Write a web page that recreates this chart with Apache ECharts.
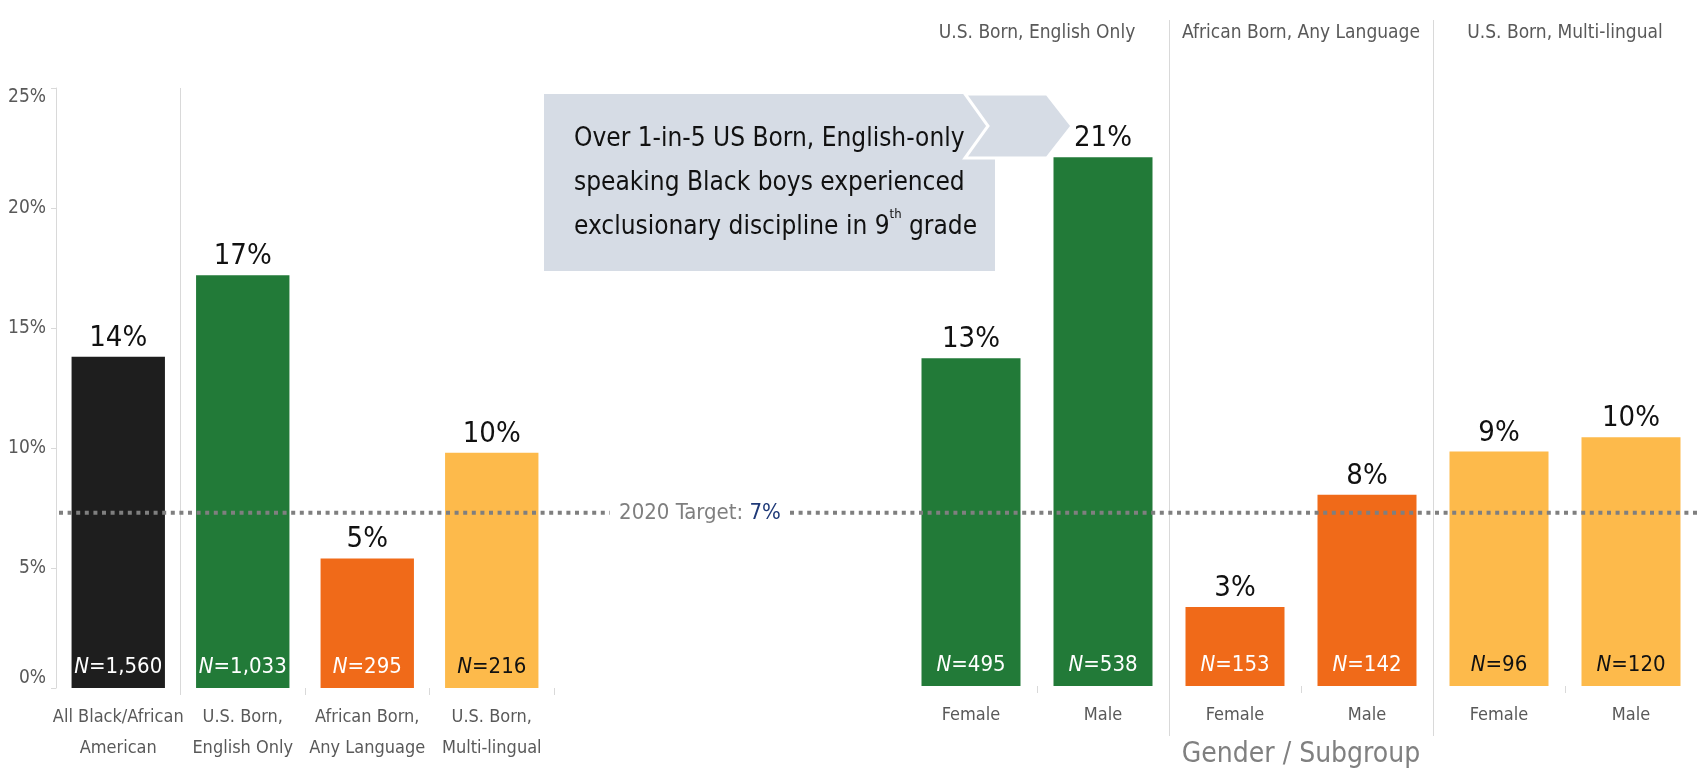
<!DOCTYPE html>
<html>
<head>
<meta charset="utf-8">
<title>Exclusionary discipline in 9th grade</title>
<script src="https://cdn.jsdelivr.net/npm/echarts@6/dist/echarts.min.js"></script>
<style>
  html, body { margin: 0; padding: 0; background: #fff; }
  #chart { width: 1697px; height: 774px; }
</style>
</head>
<body>
<div id="chart"></div>
<script>
var FONT = '"Liberation Sans Narrow", "DejaVu Sans Condensed", "Arial Narrow", sans-serif';

// left panel: all students, then by background
var groupNames = ['All Black/African\nAmerican', 'U.S. Born,\nEnglish Only', 'African Born,\nAny Language', 'U.S. Born,\nMulti-lingual'];
var groupRates = [13.8, 17.2, 5.4, 9.8];
var groupLabels = ['14%', '17%', '5%', '10%'];
var groupN = ['1,560', '1,033', '295', '216'];

// right panel: gender inside each subgroup
var subgroupNames = ['U.S. Born, English Only', 'African Born, Any Language', 'U.S. Born, Multi-lingual'];
var genderNames = ['Female', 'Male', 'Female', 'Male', 'Female', 'Male'];
var genderRates = [13.7, 22.1, 3.3, 8.0, 9.8, 10.4];
var genderLabels = ['13%', '21%', '3%', '8%', '9%', '10%'];
var genderN = ['495', '538', '153', '142', '96', '120'];

var yMax = 25;
var yStep = 5;
var target = 7.3;
var targetLabel = '7%';

var BLACK = '#1e1e1e', GREEN = '#227a38', ORANGE = '#f06a19', YELLOW = '#fdba4b';
var groupColors = [BLACK, GREEN, ORANGE, YELLOW];
var genderColors = [GREEN, GREEN, ORANGE, ORANGE, YELLOW, YELLOW];
var GRAY = '#595959', RULE = '#d9d9d9';

function barData(values, colors) {
    return values.map(function (v, i) {
        return { value: v, itemStyle: { color: colors[i] } };
    });
}
function nData(values, colors) {
    return values.map(function (v, i) {
        return { value: v, label: { color: colors[i] === YELLOW ? '#111' : '#fff' } };
    });
}

function barSeries(axis, values, colors, labels) {
    return {
        type: 'bar', xAxisIndex: axis, yAxisIndex: axis, silent: true,
        data: barData(values, colors),
        barCategoryGap: '25%',
        label: {
            show: true, position: 'top', distance: 4,
            formatter: function (p) { return labels[p.dataIndex]; },
            fontFamily: FONT, fontSize: 29, color: '#111'
        },
        z: 2
    };
}
function nSeries(axis, values, colors, counts) {
    return {
        type: 'bar', xAxisIndex: axis, yAxisIndex: axis, silent: true,
        data: nData(values, colors),
        barGap: '-100%', barCategoryGap: '25%',
        itemStyle: { color: 'transparent' },
        label: {
            show: true, position: 'insideBottom', distance: 10,
            formatter: function (p) { return '{i|N}=' + counts[p.dataIndex]; },
            fontFamily: FONT, fontSize: 22,
            rich: { i: { fontStyle: 'italic', fontFamily: FONT, fontSize: 22 } }
        },
        z: 3
    };
}

// hide the tick at the very start of each category axis
function innerTicks(index) { return index > 0; }

var chart = echarts.init(document.getElementById('chart'));
var option = {
    animation: false,
    textStyle: { fontFamily: FONT },
    grid: [
        { left: 56, top: 88, width: 498, bottom: 86 },
        { left: 905, top: 88, right: -16, bottom: 86 }
    ],
    xAxis: [
        {
            type: 'category', gridIndex: 0, data: groupNames,
            axisLine: { show: false },
            axisTick: { show: true, length: 7, interval: innerTicks, lineStyle: { color: RULE } },
            axisLabel: { interval: 0, color: GRAY, fontFamily: FONT, fontSize: 18, lineHeight: 31, margin: 14 }
        },
        {
            type: 'category', gridIndex: 1, data: genderNames,
            axisLine: { show: false },
            axisTick: { show: true, length: 7, interval: innerTicks, lineStyle: { color: RULE } },
            axisLabel: { interval: 0, color: GRAY, fontFamily: FONT, fontSize: 18, lineHeight: 31, margin: 14 },
            name: 'Gender / Subgroup', nameLocation: 'middle', nameGap: 55,
            nameTextStyle: { color: '#808080', fontFamily: FONT, fontSize: 28 }
        }
    ],
    yAxis: [
        {
            type: 'value', gridIndex: 0, min: 0, max: yMax, interval: yStep,
            axisLine: { show: true, lineStyle: { color: RULE } },
            axisTick: { show: true, length: 5, lineStyle: { color: RULE } },
            splitLine: { show: false },
            axisLabel: {
                formatter: '{value}%', color: GRAY, fontFamily: FONT, fontSize: 19, margin: 10,
                verticalAlignMaxLabel: 'top', verticalAlignMinLabel: 'bottom'
            }
        },
        { type: 'value', gridIndex: 1, min: 0, max: yMax, interval: yStep, show: false }
    ],
    series: [
        barSeries(0, groupRates, groupColors, groupLabels),
        nSeries(0, groupRates, groupColors, groupN),
        barSeries(1, genderRates, genderColors, genderLabels),
        nSeries(1, genderRates, genderColors, genderN)
    ]
};
chart.setOption(option);

// separators, headers, target line and the call-out, placed from the axes
var px0 = function (i) { return chart.convertToPixel({ xAxisIndex: 0 }, i); };
var px1 = function (i) { return chart.convertToPixel({ xAxisIndex: 1 }, i); };
var py = function (v) { return chart.convertToPixel({ yAxisIndex: 0 }, v); };

var yTop = py(yMax), yBase = py(0), yTarget = py(target);
var leftEdge = px0(0) - (px0(1) - px0(0)) / 2;
var graphics = [];

graphics.push({
    type: 'line', z: 1, silent: true,
    shape: { x1: (px0(0) + px0(1)) / 2, y1: yTop, x2: (px0(0) + px0(1)) / 2, y2: yBase },
    style: { stroke: RULE, lineWidth: 1 }
});
[1, 3].forEach(function (i) {
    var x = Math.round((px1(i) + px1(i + 1)) / 2) + 0.5;
    graphics.push({
        type: 'line', z: 1, silent: true,
        shape: { x1: x, y1: 20, x2: x, y2: 736 },
        style: { stroke: RULE, lineWidth: 1 }
    });
});
subgroupNames.forEach(function (name, k) {
    graphics.push({
        type: 'text', z: 5, silent: true,
        x: (px1(2 * k) + px1(2 * k + 1)) / 2, y: 33,
        style: { text: name, fill: GRAY, font: '19px ' + FONT, align: 'center', verticalAlign: 'middle' }
    });
});

// 2020 target
var dash = { stroke: '#7f7f7f', lineWidth: 4, lineDash: [4, 4.6] };
graphics.push({ type: 'line', z: 50, silent: true, shape: { x1: leftEdge + 3, y1: yTarget, x2: 610, y2: yTarget }, style: dash });
graphics.push({ type: 'line', z: 50, silent: true, shape: { x1: 790, y1: yTarget, x2: 1697, y2: yTarget }, style: dash });
graphics.push({
    type: 'text', z: 50, silent: true, x: 700, y: yTarget,
    style: {
        text: '{a|2020 Target: }{b|' + targetLabel + '}',
        align: 'center', verticalAlign: 'middle',
        rich: {
            a: { fill: '#7f7f7f', font: '22px ' + FONT },
            b: { fill: '#1f3a78', font: '22px ' + FONT }
        }
    }
});

// call-out box
graphics.push({
    type: 'rect', z: 20, silent: true,
    shape: { x: 544, y: 94, width: 451, height: 177 },
    style: { fill: '#d6dce5' }
});
graphics.push({
    type: 'polygon', z: 21, silent: true,
    shape: { points: [[965, 94], [1047, 94], [1072, 126], [1047, 158], [965, 158], [988, 126]] },
    style: { fill: '#d6dce5', stroke: '#fff', lineWidth: 3 }
});
graphics.push({
    type: 'text', z: 22, silent: true, x: 574, y: 183,
    style: {
        text: '{t|Over 1-in-5 US Born, English-only}\n{t|speaking Black boys experienced}\n{t|exclusionary discipline in 9}{s|th}{t| grade}',
        verticalAlign: 'middle', align: 'left',
        rich: {
            t: { fill: '#111', font: '26px ' + FONT, lineHeight: 44 },
            s: { fill: '#111', font: '13px ' + FONT, lineHeight: 16, verticalAlign: 'top', padding: [3, 0, 0, 0] }
        }
    }
});

chart.setOption({ graphic: graphics });
</script>
</body>
</html>
